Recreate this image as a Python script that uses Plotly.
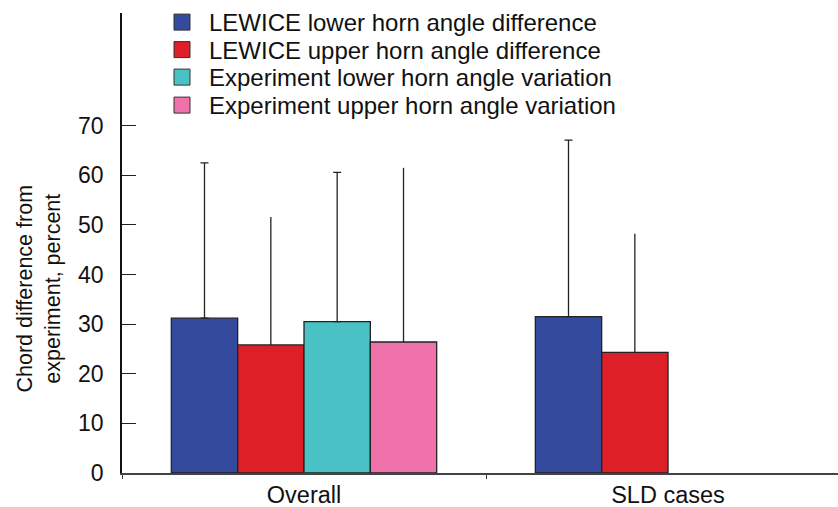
import plotly.graph_objects as go

categories = ["Overall", "SLD cases"]
series_names = [
    "LEWICE lower horn angle difference",
    "LEWICE upper horn angle difference",
    "Experiment lower horn angle variation",
    "Experiment upper horn angle variation",
]
lewice_lower = [31.2, 31.5]
lewice_upper = [25.8, 24.3]
exp_lower = [30.5, None]
exp_upper = [26.4, None]
lewice_lower_err = [31.3, 35.6]
lewice_upper_err = [25.8, 23.9]
exp_lower_err = [30.1, None]
exp_upper_err = [35.1, None]
y_ticks = [0, 10, 20, 30, 40, 50, 60, 70]

values = [lewice_lower, lewice_upper, exp_lower, exp_upper]
errors = [lewice_lower_err, lewice_upper_err, exp_lower_err, exp_upper_err]
colors = ["#344A9C", "#DD1F27", "#4AC2C5", "#EF72AA"]
cap_widths = [4, 0, 4, 0]

FONT = "Liberation Sans, Arial, sans-serif"
PLOT_TOP, PLOT_BOTTOM = 12, 473
legend_row_px = [22, 50, 77.5, 105.5]
legend_keys = ["legend", "legend2", "legend3", "legend4"]

fig = go.Figure()
for name, vals, errs, col, cw in zip(series_names, values, errors, colors, cap_widths):
    fig.add_trace(go.Bar(
        x=categories, y=vals, name=name, showlegend=False,
        marker=dict(color=col, line=dict(color="#222222", width=1.3)),
        error_y=dict(type="data", symmetric=False, array=errs,
                     arrayminus=[0 if e is not None else None for e in errs],
                     color="#222222", thickness=1.3, width=cw),
    ))
# legend entries (one legend per row for exact spacing)
legend_layouts = {}
for name, col, key, py in zip(series_names, colors, legend_keys, legend_row_px):
    fig.add_trace(go.Scatter(
        x=[None], y=[None], mode="markers", name=name, legend=key,
        marker=dict(symbol="square", size=16, color=col, line=dict(color="#333333", width=1)),
    ))
    legend_layouts[key] = dict(
        x=0.0461, y=(PLOT_BOTTOM - py) / (PLOT_BOTTOM - PLOT_TOP),
        xanchor="left", yanchor="middle", font=dict(size=24, family=FONT, color="#111111"),
        bgcolor="rgba(0,0,0,0)", itemwidth=44, borderwidth=0,
    )

fig.update_layout(
    width=838, height=507,
    margin=dict(l=122, r=0, t=PLOT_TOP, b=507 - PLOT_BOTTOM),
    paper_bgcolor="white", plot_bgcolor="white",
    font=dict(family=FONT, size=24, color="#111111"),
    barmode="group", bargap=0.271, bargroupgap=0,
    showlegend=True,
    xaxis=dict(type="category", range=[-0.5, 1.467], showline=True,
               linecolor="#444444", linewidth=1.5, ticks="outside", ticklen=4,
               tickson="boundaries", tickcolor="#333333", showgrid=False,
               automargin=False, tickfont=dict(size=23.5)),
    yaxis=dict(range=[0, 92.7], tickvals=y_ticks, showline=True, linecolor="#111111",
               linewidth=1.5, ticks="inside", ticklen=14, tickcolor="#222222",
               showgrid=False, zeroline=False, automargin=False,
               ticklabelstandoff=12, tickfont=dict(size=23)),
    annotations=[dict(
        text="Chord difference from<br>experiment, percent",
        xref="paper", yref="paper", x=-0.116, y=0.401,
        xanchor="center", yanchor="middle", textangle=-90,
        showarrow=False, font=dict(size=21.5, family=FONT, color="#111111"),
    )],
    **legend_layouts,
)
fig.write_html("out.html")
